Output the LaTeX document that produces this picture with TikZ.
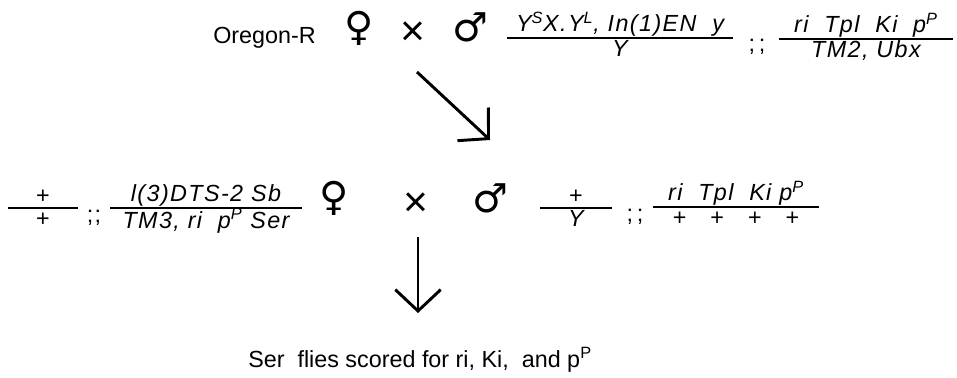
\documentclass[tikz,border=0pt]{standalone}
\usepackage{fontspec}
\setmainfont{Liberation Sans}
\newfontfamily\symfont{DejaVu Sans}
\newfontfamily\genfont[LetterSpace=6]{Liberation Sans}
\usetikzlibrary{arrows.meta, calc}
% genotype fraction: line width, numerator, denominator
\newcommand{\gfrac}[3]{{\setlength{\arrayrulewidth}{1.6pt}%
  \renewcommand{\arraystretch}{0}%
  \begin{tabular}{@{}c@{}}
    \makebox[#1]{\rule[-2.5pt]{0pt}{18.5pt}#2}\\\hline
    \rule[-4pt]{0pt}{17pt}#3
  \end{tabular}}}

\begin{document}
\begin{tikzpicture}[
  x=0.75pt, y=-0.75pt,
  font=\fontsize{17.5}{21}\selectfont,
  % ── sex symbols and cross sign
  sex/.style={font=\symfont\fontsize{30}{30}\selectfont, inner sep=0pt},
  crosss/.style={font=\fontsize{32}{32}\selectfont, inner sep=0pt},
  % ── genotypes
  geno/.style={font=\genfont\itshape\fontsize{17.5}{19}\selectfont,
    inner sep=0pt},
  semi/.style={font=\genfont\fontsize{17.5}{19}\selectfont,
    inner sep=0pt, anchor=base},
  plain/.style={inner sep=0pt, anchor=base west},
  % ── arrows
  bigarr/.style={-{Straight Barb[length=16pt, width=34pt]}, line width=2.2pt},
]

\useasboundingbox (0,0) rectangle (957,378);

%% ═══════════════════════════════════════════════════════════════
%%  ROW 1 — Oregon-R females x balancer males
%% ═══════════════════════════════════════════════════════════════

\node[plain] (oregon) at (213,44) {Oregon-R};
\node[sex]   (fem1)   at (359,28) {♀};
\node[crosss] (x1)    at (413,34) {×};
\node[sex]   (mal1)   at (470,27) {♂};

\node[geno] (g1) at (620,36) {\gfrac{169pt}
  {Y\textsuperscript{S}X.Y\textsuperscript{L}, In(1)EN\ \ y}{Y}};
\node[semi] (s1) at (757,52) {;\,;};
\node[geno] (g2) at (866,37) {\gfrac{130pt}
  {ri\ \ Tpl\ \ Ki\ \ p\textsuperscript{P}}{TM2, Ubx}};

%% ═══════════════════════════════════════════════════════════════
%%  ROW 2 — Ser females x F1 males
%% ═══════════════════════════════════════════════════════════════

\node[geno] (g3) at (43,207) {\gfrac{52pt}{\textup{+}}{\textup{+}}};
\node[semi] (s2) at (94,222) {;;};
\node[geno] (g4) at (206,207) {\gfrac{144pt}
  {l(3)DTS-2 Sb}{TM3, ri\ \ p\textsuperscript{P} Ser}};
\node[sex]   (fem2) at (334,198) {♀};
\node[crosss] (x2)  at (416,205) {×};
\node[sex]   (mal2) at (490,198) {♂};

\node[geno] (g5) at (576,207) {\gfrac{54pt}{\textup{+}}{Y}};
\node[semi] (s3) at (635,221) {;\,;};
\node[geno] (g6) at (736,205) {\gfrac{125pt}
  {ri\ \ Tpl\ \ Ki p\textsuperscript{P}}
  {\textup{+\hspace{18pt}+\hspace{18pt}+\hspace{18pt}+}}};

%% ═══════════════════════════════════════════════════════════════
%%  RESULT
%% ═══════════════════════════════════════════════════════════════

\node[plain] (result) at (248,367)
  {Ser\ \ flies scored for ri, Ki,\ \ and p\textsuperscript{P}};

% arrows
\coordinate (a1s) at (417,72);
\coordinate (a1e) at (490,140);
\draw[bigarr] (a1s) -- (a1e);

\coordinate (a2s) at (418,237);
\coordinate (a2e) at (418,313);
\draw[bigarr] (a2s) -- (a2e);

\end{tikzpicture}
\end{document}
